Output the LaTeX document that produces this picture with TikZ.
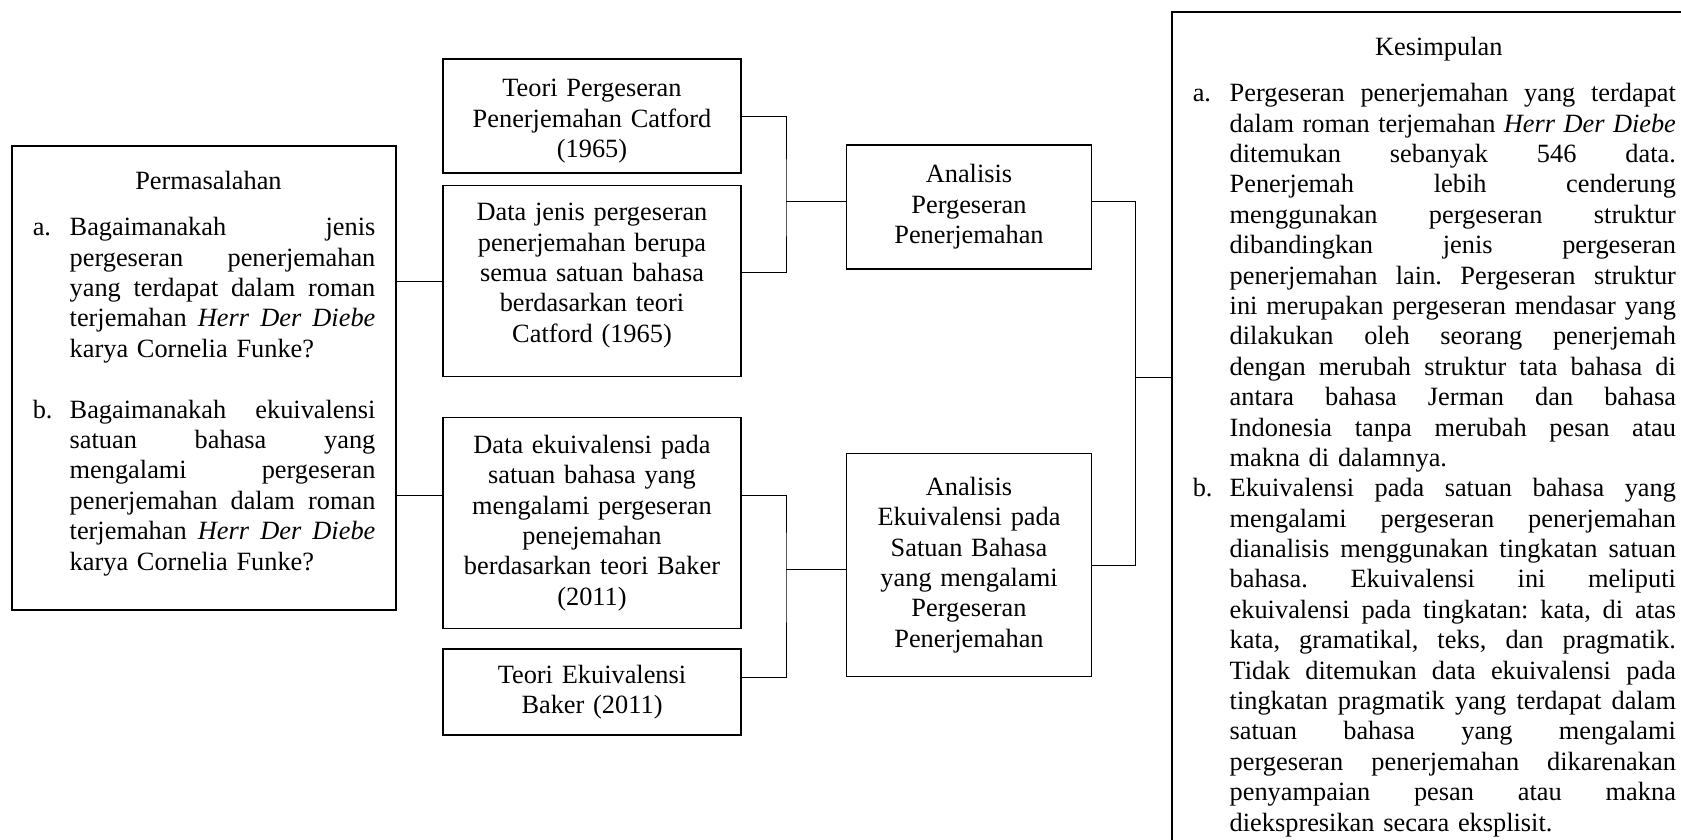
\documentclass[tikz,border=0pt]{standalone}
\usepackage{fontspec}
\setmainfont{Liberation Serif}
\usepackage{tikz}
\newlength{\lebar}
\newcommand{\rata}[2]{\noindent\makebox[21pt][l]{#1}\makebox[\lebar][s]{\spaceskip=.25em plus 1fil\relax#2}\par}
\newcommand{\akhir}[2]{\noindent\makebox[21pt][l]{#1}#2\par}
\tikzset{
  line width=1pt,
}
\tikzstyle{every node}=[font=\fontsize{15pt}{17.3pt}\selectfont\frenchspacing]
\tikzstyle{kotak}=[draw,line width=1pt,align=center,inner ysep=0pt,inner xsep=8.5pt,text width=153pt]
\tikzstyle{daftar}=[draw,line width=1pt,anchor=north west,inner xsep=11.9pt,inner ysep=14.4pt]

\begin{document}
\begin{tikzpicture}[x=0.02cm,y=-0.02cm]
  \useasboundingbox (0,0) rectangle (1681,839);
  \clip (0,0) rectangle (1681,839);
  \node[daftar,text width=195pt] (perm) at (11,145) {\setlength{\lebar}{174pt}
    {\centering Permasalahan\par}\vspace{9pt}
    \rata{a.}{Bagaimanakah jenis}
    \rata{}{pergeseran penerjemahan}
    \rata{}{yang terdapat dalam roman}
    \rata{}{terjemahan \textit{Herr Der Diebe}}
    \akhir{}{karya Cornelia Funke?}
    \vspace{17.3pt}
    \rata{b.}{Bagaimanakah ekuivalensi}
    \rata{}{satuan bahasa yang}
    \rata{}{mengalami pergeseran}
    \rata{}{penerjemahan dalam roman}
    \rata{}{terjemahan \textit{Herr Der Diebe}}
    \akhir{}{karya Cornelia Funke?\rule[-8.4pt]{0pt}{8.4pt}}};
  \node[kotak,minimum height=64.6pt] (ct) at (592,116) {\rule{0pt}{15.8pt}Teori Pergeseran\\Penerjemahan Catford\\(1965)};
  \node[kotak,minimum height=108.8pt] (dj) at (592,281) {Data jenis pergeseran\\penerjemahan berupa\\semua satuan bahasa\\berdasarkan teori\\Catford (1965)\rule[-9.3pt]{0pt}{9.3pt}};
  \node[kotak,minimum height=120.2pt] (de) at (592,523) {Data ekuivalensi pada\\satuan bahasa yang\\mengalami pergeseran\\penejemahan\\berdasarkan teori Baker\\(2011)};
  \node[kotak,minimum height=48.8pt] (te) at (592,692) {Teori Ekuivalensi\\Baker (2011)};
  \node[kotak,text width=122.5pt,minimum height=70.3pt] (ap) at (969,207) {Analisis\\Pergeseran\\Penerjemahan};
  \node[kotak,text width=122.5pt,minimum height=127pt] (ae) at (969,565) {Analisis\\Ekuivalensi pada\\Satuan Bahasa\\yang mengalami\\Pergeseran\\Penerjemahan};
  \node[daftar,text width=275pt] (kes) at (1171,11) {\setlength{\lebar}{254pt}
    {\centering Kesimpulan\par}\vspace{9pt}
    \rata{a.}{Pergeseran penerjemahan yang terdapat}
    \rata{}{dalam roman terjemahan \textit{Herr Der Diebe}}
    \rata{}{ditemukan sebanyak 546 data.}
    \rata{}{Penerjemah lebih cenderung}
    \rata{}{menggunakan pergeseran struktur}
    \rata{}{dibandingkan jenis pergeseran}
    \rata{}{penerjemahan lain. Pergeseran struktur}
    \rata{}{ini merupakan pergeseran mendasar yang}
    \rata{}{dilakukan oleh seorang penerjemah}
    \rata{}{dengan merubah struktur tata bahasa di}
    \rata{}{antara bahasa Jerman dan bahasa}
    \rata{}{Indonesia tanpa merubah pesan atau}
    \akhir{}{makna di dalamnya.}
    \rata{b.}{Ekuivalensi pada satuan bahasa yang}
    \rata{}{mengalami pergeseran penerjemahan}
    \rata{}{dianalisis menggunakan tingkatan satuan}
    \rata{}{bahasa. Ekuivalensi ini meliputi}
    \rata{}{ekuivalensi pada tingkatan: kata, di atas}
    \rata{}{kata, gramatikal, teks, dan pragmatik.}
    \rata{}{Tidak ditemukan data ekuivalensi pada}
    \rata{}{tingkatan pragmatik yang terdapat dalam}
    \rata{}{satuan bahasa yang mengalami}
    \rata{}{pergeseran penerjemahan dikarenakan}
    \rata{}{penyampaian pesan atau makna}
    \akhir{}{diekspresikan secara eksplisit.\rule[-40pt]{0pt}{40pt}}};
  \coordinate (j1) at (786,201);
  \coordinate (j2) at (786,569);
  \coordinate (j3) at (1135,377);
  \draw (perm.east |- dj.west) -- (dj.west);
  \draw ([yshift=16pt]de.west) -- ([yshift=16pt]de.west -| perm.east);
  \draw (ct.east) -| (j1) |- ([yshift=5pt]dj.east);
  \draw (j1) -- (j1 -| ap.west);
  \draw ([yshift=16pt]de.east) -| (j2) |- ([yshift=8.5pt]te.east);
  \draw (j2) -- (j2 -| ae.west);
  \draw ([yshift=3.4pt]ap.east) -| (j3) |- (ae.east);
  \draw (j3) -- (j3 -| kes.west);
\end{tikzpicture}
\end{document}
